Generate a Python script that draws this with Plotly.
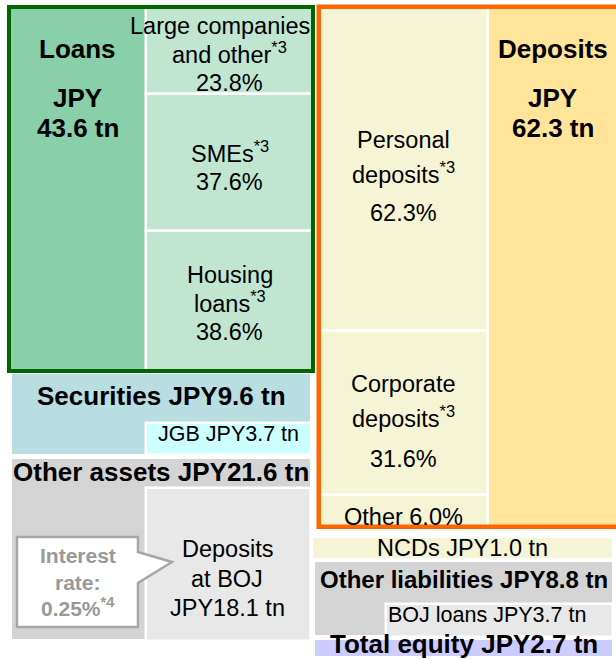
import plotly.graph_objects as go

# ---------------- data (JPY tn) ----------------
asset_items = ["Loans", "Securities", "Other assets"]
asset_values = [43.6, 9.6, 21.6]
liab_items = ["Deposits", "NCDs", "Other liabilities", "Total equity"]
liab_values = [62.3, 1.0, 8.8, 2.7]

loan_sub_labels = [["Large companies", "and other<sup>*3</sup>"], ["SMEs<sup>*3</sup>"], ["Housing", "loans<sup>*3</sup>"]]
loan_sub_pct = [23.8, 37.6, 38.6]
deposit_sub_labels = [["Personal", "deposits<sup>*3</sup>"], ["Corporate", "deposits<sup>*3</sup>"], ["Other"]]
deposit_sub_pct = [62.3, 31.6, 6.0]

jgb_value = 3.7
boj_deposits_value = 18.1
boj_loans_value = 3.7
boj_rate_pct = 0.25

# ---------------- layout constants ----------------
W, H = 616, 659
PLOT_BOTTOM = 656  # pixel where the drawing is cropped
PX = 8.35          # pixels per JPY tn
TOP = 7            # pixel of y = 0
MIN_BAND = 2.4     # minimum drawn height of a thin band
FONT = "Liberation Sans, Arial, sans-serif"

C_LOAN_D, C_LOAN_L, C_LOAN_B = "#89CFAA", "#C0E6D2", "#006600"
C_DEP_D, C_DEP_L, C_DEP_B = "#FFE499", "#F5F5D5", "#FF6600"
C_SEC, C_JGB = "#B9DEE2", "#CCFFFF"
C_OTH, C_OTH_L = "#D4D4D4", "#E8E8E8"
C_EQ = "#CCCCFF"
C_CALLOUT = "#A6A6A6"

fig = go.Figure()


def rect(x0, x1, y0, y1, fill, line_color="rgba(0,0,0,0)", line_width=0):
    fig.add_trace(go.Bar(
        x=[(x0 + x1) / 2], y=[y1 - y0], base=[y0], width=[x1 - x0],
        marker=dict(color=fill, line=dict(color=line_color, width=line_width)),
        textposition="none", hoverinfo="skip", showlegend=False))


annotations = []


def label(x, y, off, text, size, bold=False, color="black"):
    """Place a text line whose baseline sits `off` pixels below data-y `y`."""
    if bold:
        text = "<b>" + text + "</b>"
    annotations.append(dict(
        x=x, y=y, xref="x", yref="y", text=text, showarrow=False,
        xanchor="center", yanchor="bottom", yshift=-(off + 0.212 * size + 2),
        font=dict(family=FONT, size=size, color=color)))


def u(px):
    return px / PX


# ---------------- assets column ----------------
LX0, LSPLIT, LX1 = 9, 146, 313
loans, secs, oth = asset_values
loan_top = 0.0
loan_bot = loan_top + loans
sec_top = loan_bot + 0.3
sec_bot = sec_top + secs
oth_top = sec_bot + 0.6
oth_bot = oth_top + oth

rect(LX0, LX1, loan_top, loan_bot, C_LOAN_D)
y = loan_top
loan_cells = []
for p in loan_sub_pct:
    h = loans * p / 100
    rect(LSPLIT, LX1, y, y + h, C_LOAN_L, "white", 2.5)
    loan_cells.append((y, y + h))
    y += h
rect(LX0, LX1, loan_top, loan_bot, "rgba(0,0,0,0)", C_LOAN_B, 4)

BX0, BX1, BSPLIT = 12, 310, 146
rect(BX0, BX1, sec_top, sec_bot, C_SEC)
rect(BSPLIT, BX1 + 1, sec_bot - jgb_value, sec_bot + 0.2, C_JGB, "white", 2.5)
rect(BX0, BX1, oth_top, oth_bot, C_OTH)
bojd_top = oth_bot - boj_deposits_value
rect(BSPLIT, BX1 + 1, bojd_top, oth_bot + 0.2, C_OTH_L, "white", 2.5)

# ---------------- liabilities column ----------------
RX0, RSPLIT, RX1 = 319, 488, 660
dep, ncd, ol, eq = liab_values
dep_top = 0.0
dep_bot = dep_top + dep
ncd_top = dep_bot + 1.3
ncd_bot = ncd_top + max(ncd, MIN_BAND)
ol_top = ncd_bot + 0.45
ol_bot = ol_top + ol
eq_top = ol_bot + 0.5
eq_bot = eq_top + max(eq, MIN_BAND)

rect(RX0, RX1, dep_top, dep_bot, C_DEP_D)
y = dep_top
dep_cells = []
for p in deposit_sub_pct:
    h = dep * p / 100
    rect(RX0, RSPLIT, y, y + h, C_DEP_L, "white", 2.5)
    dep_cells.append((y, y + h))
    y += h
rect(RX0, RX1, dep_top, dep_bot, "rgba(0,0,0,0)", C_DEP_B, 4.5)

QX0, QX1, QSPLIT = 315, 612, 386
rect(313, QX1, ncd_top, ncd_bot, C_DEP_L)
rect(QX0, QX1, ol_top, ol_bot, C_OTH)
rect(QSPLIT, QX1 + 1, ol_bot - boj_loans_value, ol_bot + 0.2, C_OTH_L, "white", 2.5)
rect(QX0, QX1, eq_top, eq_bot, C_EQ)

# ---------------- texts ----------------
REG, BOLD, SMALL = 23.5, 26, 21.5

# Loans heading
lx = (LX0 + LSPLIT) / 2
label(lx, loan_top, 51, asset_items[0], BOLD, True)
label(lx, loan_top, 100, "JPY", BOLD, True)
label(lx, loan_top, 130, f"{loans:.1f} tn", BOLD, True)

# Deposits heading
dx = (RSPLIT + W) / 2 + 0.5
label(dx, dep_top, 51, liab_items[0], BOLD, True)
label(dx, dep_top, 100, "JPY", BOLD, True)
label(dx, dep_top, 130, f"{dep:.1f} tn", BOLD, True)

sub_x = (LSPLIT + LX1) / 2
loan_offsets = [[-16.3, 12.7, 40.7], [0, 28], [-17.8, 11.2, 39.2]]
for (a, b), lines, p, offs in zip(loan_cells, loan_sub_labels, loan_sub_pct, loan_offsets):
    c = (a + b) / 2
    all_lines = lines + [f"{p:.1f}%"]
    for t, o in zip(all_lines, offs):
        x = sub_x - 10 if t.startswith("Large") else sub_x
        label(x, c, o, t, REG)

dsub_x = (RX0 + RSPLIT) / 2
dep_offsets = [[-21, 14, 52], [-21, 14, 54], [14]]
for (a, b), lines, p, offs in zip(dep_cells, deposit_sub_labels, deposit_sub_pct, dep_offsets):
    c = (a + b) / 2
    if len(lines) == 1:
        all_lines = [f"{lines[0]} {p:.1f}%"]
    else:
        all_lines = lines + [f"{p:.1f}%"]
    for t, o in zip(all_lines, offs):
        label(dsub_x, c, o, t, REG)

bx = (BX0 + BX1) / 2
label(bx, sec_top, 32, f"{asset_items[1]} JPY{secs:.1f} tn", BOLD, True)
label((BSPLIT + BX1) / 2, sec_bot, -12.7, f"JGB JPY{jgb_value:.1f} tn", SMALL)
label(bx, oth_top, 23, f"{asset_items[2]} JPY{oth:.1f} tn", BOLD, True)
bojx = (BSPLIT + BX1) / 2 - 1
label(bojx, bojd_top, 69, "Deposits", REG)
label(bojx, bojd_top, 99, "at BOJ", REG)
label(bojx, bojd_top, 128, f"JPY{boj_deposits_value:.1f} tn", REG)

qx = (QX0 + QX1) / 2
label((313 + QX1) / 2, (ncd_top + ncd_bot) / 2, 8, f"{liab_items[1]} JPY{ncd:.1f} tn", REG)
label(qx, ol_top, 26, f"{liab_items[2]} JPY{ol:.1f} tn", 24, True)
label(487, ol_bot, -13.3, f"BOJ loans JPY{boj_loans_value:.1f} tn", SMALL)
label(qx, eq_top, 13.5, f"{liab_items[3]} JPY{eq:.1f} tn", BOLD, True)

# callout (interest rate on BOJ deposits)
cy = bojd_top
path = (f"M 17,{cy + u(49)} L 138,{cy + u(49)} L 138,{cy + u(64)} L 172,{cy + u(74)} "
        f"L 138,{cy + u(95)} L 138,{cy + u(139)} L 17,{cy + u(139)} Z")
shapes = [dict(type="path", path=path, xref="x", yref="y", fillcolor="white",
               line=dict(color=C_CALLOUT, width=2.5))]
cx = 77.5
label(cx, cy, 75, "Interest", 21, True, "#999999")
label(cx, cy, 102, "rate:", 21, True, "#999999")
label(cx, cy, 128, f"{boj_rate_pct:.2f}%<sup>*4</sup>", 21, True, "#999999")

fig.update_layout(
    width=W, height=H, margin=dict(l=0, r=0, t=0, b=H - PLOT_BOTTOM),
    paper_bgcolor="white", plot_bgcolor="white",
    barmode="overlay", bargap=0,
    xaxis=dict(range=[0, W], visible=False, fixedrange=True),
    yaxis=dict(range=[(PLOT_BOTTOM - TOP) / PX, -TOP / PX], visible=False, fixedrange=True),
    shapes=shapes, annotations=annotations, showlegend=False,
)

fig.write_html(
    "out.html",
    config={"displayModeBar": False},
    post_script="document.body.style.margin='0';document.body.style.overflow='hidden';",
)
